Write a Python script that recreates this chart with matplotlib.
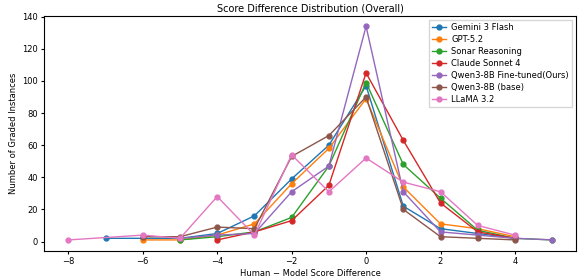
import matplotlib
matplotlib.use("Agg")
import matplotlib.pyplot as plt

# score difference (human - model) and counts per model
gemini_x = [-7, -6, -5, -4, -3, -2, -1, 0, 1, 2, 3, 4]
gemini_y = [2, 2, 2, 5, 16, 39, 60, 97, 22, 8, 5, 2]

gpt_x = [-6, -5, -4, -3, -2, -1, 0, 1, 2, 3, 4]
gpt_y = [1, 1, 4, 11, 36, 58, 89, 34, 11, 8, 3]

sonar_x = [-5, -4, -3, -2, -1, 0, 1, 2, 3, 4, 5]
sonar_y = [1, 3, 6, 15, 47, 99, 48, 27, 7, 2, 1]

claude_x = [-4, -3, -2, -1, 0, 1, 2, 3, 4]
claude_y = [1, 6, 13, 35, 105, 63, 24, 6, 2]

qwen_ft_x = [-5, -4, -3, -2, -1, 0, 1, 2, 3, 4, 5]
qwen_ft_y = [2, 4, 5, 31, 47, 134, 31, 6, 4, 2, 1]

qwen_base_x = [-6, -5, -4, -3, -2, -1, 0, 1, 2, 3, 4]
qwen_base_y = [3, 3, 9, 8, 53, 66, 90, 20, 3, 2, 1]

llama_x = [-8, -6, -5, -4, -3, -2, -1, 0, 1, 2, 3, 4]
llama_y = [1, 4, 2, 28, 4, 54, 31, 52, 37, 31, 10, 4]

series = [
    ("Gemini 3 Flash", gemini_x, gemini_y),
    ("GPT-5.2", gpt_x, gpt_y),
    ("Sonar Reasoning", sonar_x, sonar_y),
    ("Claude Sonnet 4", claude_x, claude_y),
    ("Qwen3-8B Fine-tuned(Ours)", qwen_ft_x, qwen_ft_y),
    ("Qwen3-8B (base)", qwen_base_x, qwen_base_y),
    ("LLaMA 3.2", llama_x, llama_y),
]

fig = plt.figure(figsize=(5.81, 2.8), dpi=100)
ax = fig.add_axes([0.076, 0.105, 0.916, 0.839])

for name, x, y in series:
    ax.plot(x, y, marker="o", markersize=3.5, linewidth=1, label=name)

ax.set_title("Score Difference Distribution (Overall)", fontsize=7, pad=3)
ax.set_xlabel("Human \u2212 Model Score Difference", fontsize=6, labelpad=2)
ax.set_ylabel("Number of Graded Instances", fontsize=6, labelpad=3)
ax.set_xticks([-8, -6, -4, -2, 0, 2, 4])
ax.set_yticks(range(0, 141, 20))
ax.tick_params(labelsize=6, length=2.5, pad=2)
ax.legend(loc="upper right", fontsize=6, handlelength=1.7, handletextpad=0.6,
          labelspacing=0.35, borderpad=0.4, fancybox=False)

fig.savefig("out.png", dpi=100)
